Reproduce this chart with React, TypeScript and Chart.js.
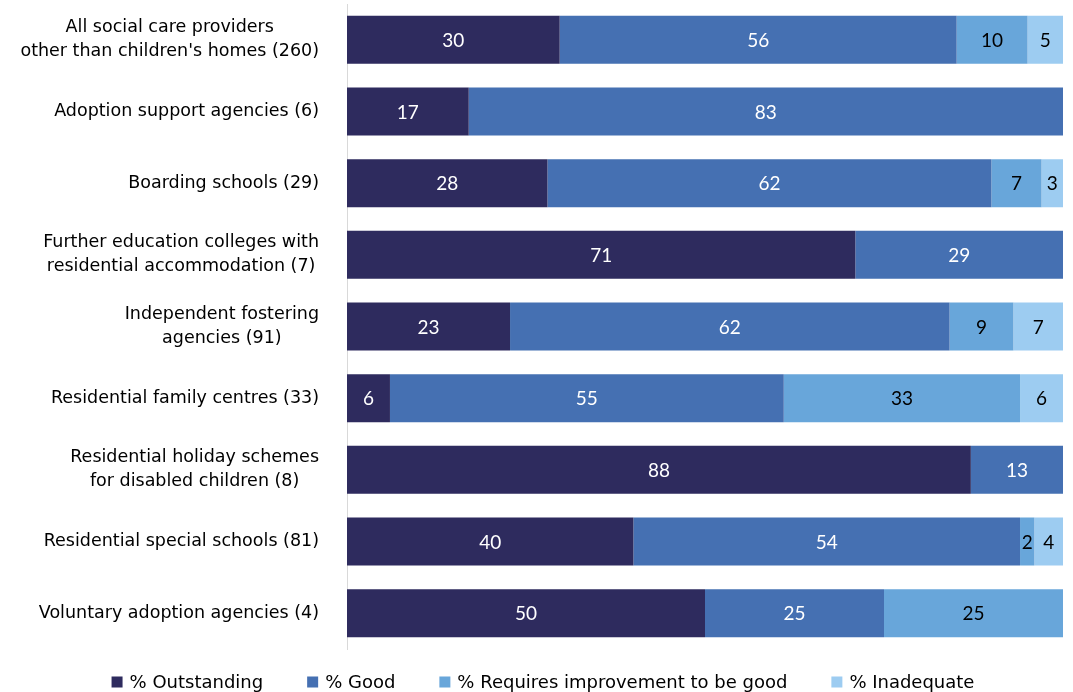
import React, { useEffect, useRef } from "react";
import { Chart, registerables } from "chart.js";

Chart.register(...registerables);

const categories: string[][] = [
  ["All social care providers", "other than children's homes (260)"],
  ["Adoption support agencies (6)"],
  ["Boarding schools (29)"],
  ["Further education colleges with", "residential accommodation (7)"],
  ["Independent fostering", "agencies (91)"],
  ["Residential family centres (33)"],
  ["Residential holiday schemes", "for disabled children (8)"],
  ["Residential special schools (81)"],
  ["Voluntary adoption agencies (4)"],
];

const outstanding = [30, 17, 28, 71, 23, 6, 88, 40, 50];
const good = [56, 83, 62, 29, 62, 55, 13, 54, 25];
const requiresImprovement = [10, 0, 7, 0, 9, 33, 0, 2, 25];
const inadequate = [5, 0, 3, 0, 7, 6, 0, 4, 0];

const seriesNames = ["% Outstanding", "% Good", "% Requires improvement to be good", "% Inadequate"];
const seriesColors = ["#2E2B5E", "#4570B2", "#68A6DA", "#9DCCF1"];
const labelColors = ["#FFFFFF", "#FFFFFF", "#000000", "#000000"];

const FONT = "'DejaVu Sans', Verdana, sans-serif";
const LABEL_FONT = "Lato, 'Open Sans', sans-serif";

export default function App() {
  const canvasRef = useRef<HTMLCanvasElement | null>(null);

  useEffect(() => {
    if (!canvasRef.current) return;
    const raw = [outstanding, good, requiresImprovement, inadequate];
    const totals = categories.map((_, i) => raw.reduce((s, arr) => s + arr[i], 0));

    const labelsPlugin = {
      id: "customLabels",
      afterDatasetsDraw(chart: any) {
        const ctx = chart.ctx;
        ctx.save();
        ctx.font = `19px ${LABEL_FONT}`;
        ctx.textAlign = "center";
        ctx.textBaseline = "middle";
        chart.data.datasets.forEach((ds: any, di: number) => {
          const meta = chart.getDatasetMeta(di);
          meta.data.forEach((el: any, i: number) => {
            const v = raw[di][i];
            if (!v) return;
            const { x, base, y } = el.getProps(["x", "base", "y"], true);
            ctx.fillStyle = labelColors[di];
            ctx.fillText(String(v), (x + base) / 2, y + 1);
          });
        });
        ctx.restore();
      },
      afterDraw(chart: any) {
        const ctx = chart.ctx;
        const yScale = chart.scales.y;
        ctx.save();
        // category labels: block right-aligned, lines centred within block
        ctx.font = `17.5px ${FONT}`;
        ctx.fillStyle = "#000000";
        ctx.textAlign = "center";
        ctx.textBaseline = "middle";
        const rightEdge = 319;
        const lineH = 24;
        categories.forEach((lines, i) => {
          const cy = yScale.getPixelForValue(i);
          const maxW = Math.max(...lines.map((l) => ctx.measureText(l).width));
          const cx = rightEdge - maxW / 2;
          const startY = cy - ((lines.length - 1) * lineH) / 2;
          lines.forEach((l, li) => ctx.fillText(l, cx, startY + li * lineH));
        });

        // legend
        ctx.font = `18px ${FONT}`;
        ctx.textAlign = "left";
        const box = 11;
        const boxGap = 7;
        const itemGap = 44;
        const widths = seriesNames.map((n) => box + boxGap + ctx.measureText(n).width);
        const total = widths.reduce((a, b) => a + b, 0) + itemGap * (widths.length - 1);
        let x = 543 - total / 2;
        const ly = 682;
        seriesNames.forEach((n, i) => {
          ctx.fillStyle = seriesColors[i];
          ctx.fillRect(x, ly - box / 2, box, box);
          ctx.fillStyle = "#000000";
          ctx.fillText(n, x + box + boxGap, ly + 1);
          x += widths[i] + itemGap;
        });
        ctx.restore();
      },
    };

    const chart = new Chart(canvasRef.current, {
      type: "bar",
      data: {
        labels: categories.map((c) => c.join(" ")),
        datasets: raw.map((arr, di) => ({
          label: seriesNames[di],
          data: arr.map((v, i) => (v / totals[i]) * 100),
          backgroundColor: seriesColors[di],
          borderWidth: 0,
          barPercentage: 0.67,
          categoryPercentage: 1,
        })),
      },
      options: {
        indexAxis: "y",
        animation: false,
        responsive: false,
        maintainAspectRatio: false,
        layout: { padding: { top: 4, right: 10, bottom: 43, left: 0 } },
        scales: {
          x: { stacked: true, min: 0, max: 100, display: false },
          y: {
            stacked: true,
            grid: { display: false },
            border: { display: true, color: "#D9D9D9", width: 1 },
            ticks: { display: false },
            afterFit(scale: any) {
              scale.width = 347;
            },
          },
        },
        plugins: {
          tooltip: { enabled: false },
          legend: { display: false },
        },
      },
      plugins: [labelsPlugin],
    });
    return () => chart.destroy();
  }, []);

  return (
    <div style={{ position: "fixed", left: 0, top: 0, width: 1073, height: 692, background: "#fff" }}>
      <canvas ref={canvasRef} width={1073} height={692} style={{ display: "block" }} />
    </div>
  );
}
